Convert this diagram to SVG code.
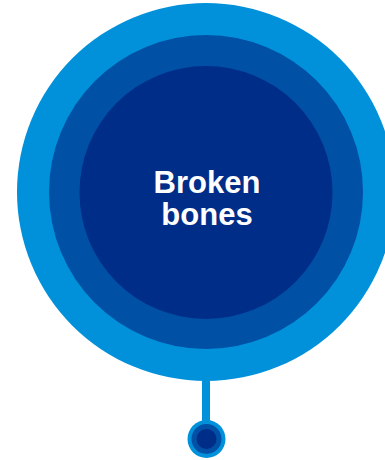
<svg xmlns="http://www.w3.org/2000/svg" width="385" height="460" viewBox="0 0 385 460">
<style>
.c1{fill:#0091DA}.c2{fill:#0050A5}.c3{fill:#002D88}
.lbl{font-family:"Liberation Sans",Arial,sans-serif;font-weight:bold;font-size:31px;fill:#FFFFFF;text-anchor:middle}
</style>
<g id="connectors">
<rect x="202" y="370" width="8" height="55" class="c1"/>
</g>
<g id="main-node">
<circle cx="206" cy="192" r="189" class="c1"/>
<circle cx="206" cy="192" r="157" class="c2"/>
<circle cx="206" cy="192.5" r="126.5" class="c3"/>
<text x="207" y="192.5" class="lbl">Broken</text>
<text x="207" y="225" class="lbl">bones</text>
</g>
<g id="end-node">
<circle cx="206.5" cy="439" r="19" class="c1"/>
<circle cx="206.5" cy="439" r="15" class="c2"/>
<circle cx="206.5" cy="439" r="10" class="c3"/>
</g>
</svg>
